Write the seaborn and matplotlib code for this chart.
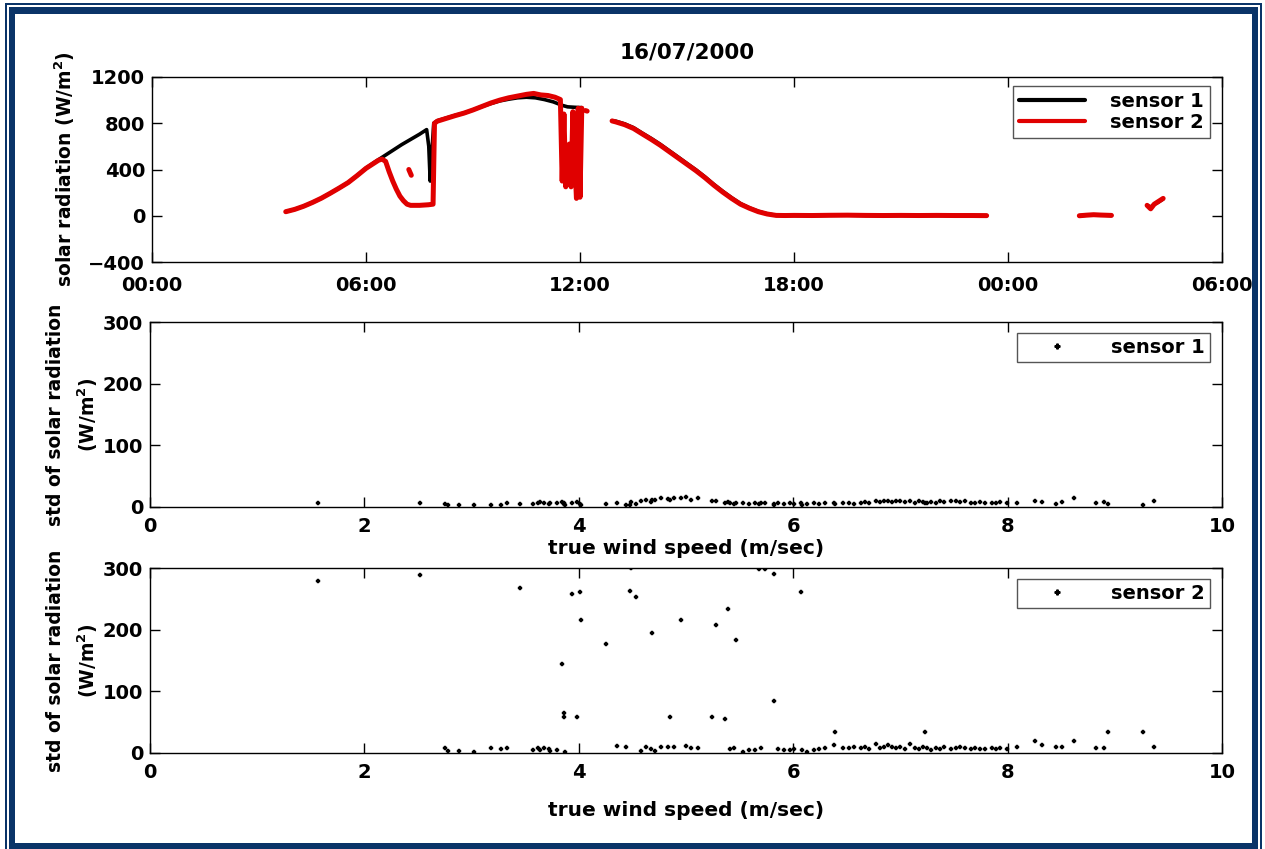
import numpy as np
import pandas as pd
import matplotlib
matplotlib.use("Agg")
import matplotlib.pyplot as plt
from matplotlib.lines import Line2D
from matplotlib.patches import Rectangle
import seaborn as sns

# ---------------- data ----------------
# time in hours from 00:00 on 16/07/2000 (NaN = gap in record)
sensor1_time = [3.75, 4.0, 4.25, 4.5, 4.75, 5.0, 5.25, 5.5, 5.75, 6.0, 6.25, 6.5, 6.75, 7.0,
                7.25, 7.5, 7.7, 7.76, 7.8, 7.84, 7.9, 8.0, 8.25, 8.5, 8.75, 9.0, 9.25, 9.5,
                9.75, 10.0, 10.25, 10.5, 10.75, 11.0, 11.25, 11.5, 11.65, 11.85, 12.05,
                np.nan,
                12.9, 13.0, 13.25, 13.5, 13.75, 14.0, 14.25, 14.5, 14.75, 15.0, 15.25, 15.5,
                15.75, 16.0, 16.25, 16.5, 16.75, 17.0, 17.25, 17.5, 17.75, 18.0, 18.5, 19.0,
                19.5, 20.0, 20.5, 21.0, 21.5, 22.0, 22.5, 23.0, 23.4,
                np.nan,
                26.0, 26.2, 26.4, 26.6, 26.9,
                np.nan,
                27.9, 28.0, 28.1, 28.2, 28.35]
sensor1_value = [35, 55, 82, 115, 152, 195, 240, 287, 347, 412, 465, 515, 565, 615,
                 660, 705, 745, 600, 300, 520, 800, 822, 845, 868, 888, 915, 945, 970,
                 993, 1008, 1020, 1025, 1020, 1005, 985, 955, 942, 938, 935,
                 np.nan,
                 822, 818, 795, 762, 714, 668, 618, 563, 508, 452, 397, 337,
                 272, 212, 156, 105, 68, 38, 16, 4, 2, 3, 2, 4,
                 5, 3, 2, 3, 2, 3, 2, 2, 1,
                 np.nan,
                 0, 5, 8, 6, 3,
                 np.nan,
                 90, 75, 100, 115, 145]

sensor2_time = [3.75, 4.0, 4.25, 4.5, 4.75, 5.0, 5.25, 5.5, 5.75, 6.0, 6.25, 6.35, 6.45, 6.55,
                6.65, 6.75, 6.85, 6.95, 7.05, 7.15, 7.25, 7.5, 7.75, 7.88, 7.92, 8.0, 8.25,
                8.5, 8.75, 9.0, 9.25, 9.5, 9.75, 10.0, 10.25, 10.5, 10.7, 10.9, 11.1, 11.3,
                11.45, 11.5, 11.55, 11.6, 11.7, 11.75, 11.8, 11.9, 11.95, 12.0, 12.05,
                np.nan,
                7.2, 7.27,
                np.nan,
                12.15, 12.2,
                np.nan,
                12.9, 13.0, 13.25, 13.5, 13.75, 14.0, 14.25, 14.5, 14.75, 15.0, 15.25, 15.5,
                15.75, 16.0, 16.25, 16.5, 16.75, 17.0, 17.25, 17.5, 17.75, 18.0, 18.5, 19.0,
                19.5, 20.0, 20.5, 21.0, 21.5, 22.0, 22.5, 23.0, 23.4,
                np.nan,
                26.0, 26.2, 26.4, 26.6, 26.9,
                np.nan,
                27.9, 28.0, 28.1, 28.2, 28.35]
sensor2_value = [35, 55, 82, 115, 152, 195, 240, 287, 347, 410, 460, 480, 490, 470,
                 380, 300, 230, 170, 130, 100, 90, 90, 95, 100, 800, 818, 842,
                 866, 888, 915, 945, 975, 1000, 1020, 1035, 1050, 1058, 1045, 1040, 1025,
                 1005, 300, 880, 250, 620, 250, 900, 150, 930, 160, 930,
                 np.nan,
                 400, 350,
                 np.nan,
                 910, 905,
                 np.nan,
                 820, 812, 788, 755, 707, 660, 610, 555, 500, 445, 390, 330,
                 265, 205, 150, 100, 65, 35, 15, 3, 2, 3, 2, 4,
                 5, 3, 2, 3, 2, 3, 2, 2, 1,
                 np.nan,
                 0, 5, 9, 6, 3,
                 np.nan,
                 90, 60, 100, 120, 150]

time_ticks = [0, 6, 12, 18, 24, 30]
time_tick_labels = ["00:00", "06:00", "12:00", "18:00", "00:00", "06:00"]

wind_speed = [1.57, 2.52, 2.75, 2.78, 2.88, 3.02, 3.18, 3.27, 3.33, 3.45, 3.57, 3.62, 3.64,
              3.68, 3.72, 3.73, 3.80, 3.84, 3.86, 3.86, 3.87, 3.94, 3.98, 4.01, 4.02, 4.25,
              4.36, 4.44, 4.48, 4.49, 4.53, 4.58, 4.63, 4.67, 4.68, 4.71, 4.77, 4.83, 4.85,
              4.89, 4.95, 5.00, 5.05, 5.11, 5.24, 5.28, 5.36, 5.39, 5.41, 5.45, 5.47, 5.53,
              5.59, 5.64, 5.68, 5.70, 5.74, 5.82, 5.82, 5.86, 5.91, 5.97, 6.01, 6.07, 6.08,
              6.13, 6.19, 6.24, 6.30, 6.38, 6.39, 6.46, 6.52, 6.57, 6.63, 6.67, 6.71, 6.77,
              6.81, 6.85, 6.88, 6.92, 6.96, 7.00, 7.04, 7.09, 7.14, 7.17, 7.21, 7.23, 7.25,
              7.29, 7.33, 7.37, 7.41, 7.47, 7.52, 7.56, 7.60, 7.66, 7.70, 7.74, 7.79, 7.85,
              7.89, 7.93, 7.99, 8.09, 8.26, 8.32, 8.45, 8.51, 8.62, 8.82, 8.90, 8.94, 9.26,
              9.37]
std_sensor1 = [6, 6, 5, 3, 3, 3, 3, 4, 7, 5, 5, 6, 8,
               7, 5, 6, 6, 8, 5, 7, 4, 6, 8, 5, 4, 5,
               6, 4, 3, 8, 5, 10, 12, 8, 12, 11, 14, 13, 12,
               14, 15, 16, 12, 15, 10, 9, 6, 8, 7, 5, 6, 7,
               5, 6, 5, 7, 6, 5, 4, 6, 5, 7, 5, 6, 4,
               5, 6, 5, 7, 6, 5, 6, 7, 5, 6, 8, 7, 9,
               8, 10, 9, 8, 10, 9, 8, 10, 7, 9, 8, 7, 6,
               8, 7, 9, 8, 10, 9, 8, 9, 7, 6, 8, 7, 6,
               7, 8, 6, 7, 10, 8, 5, 8, 14, 7, 8, 5, 4,
               9]
std_sensor2 = [279, 288, 8, 4, 4, 2, 8, 6, 8, 268, 5, 8, 5,
               8, 7, 4, 5, 144, 65, 58, 2, 258, 59, 261, 215, 176,
               11, 10, 262, 300, 253, 3, 9, 6, 195, 4, 9, 9, 58,
               9, 216, 11, 8, 8, 58, 208, 55, 234, 6, 8, 184, 2,
               5, 5, 298, 8, 298, 291, 85, 6, 5, 5, 6, 261, 5,
               2, 5, 6, 8, 13, 34, 8, 8, 9, 8, 10, 6, 14,
               8, 10, 13, 10, 8, 10, 6, 14, 8, 6, 10, 34, 8,
               5, 8, 6, 9, 6, 8, 10, 8, 6, 8, 6, 6, 8,
               6, 8, 6, 9, 20, 13, 10, 10, 20, 8, 8, 34, 34,
               9]

# ---------------- helpers ----------------
def to_frame(t, v):
    df = pd.DataFrame({"time": t, "value": v})
    df["segment"] = df["time"].isna().cumsum()
    return df.dropna().reset_index(drop=True)

df1 = to_frame(sensor1_time, sensor1_value)
df2 = to_frame(sensor2_time, sensor2_value)
scatter_df = pd.DataFrame({"wind": wind_speed, "std1": std_sensor1, "std2": std_sensor2})

# ---------------- style ----------------
sns.set_theme(style="ticks")
plt.rcParams["font.family"] = ["DejaVu Sans"]
plt.rcParams["font.weight"] = "bold"
plt.rcParams["axes.labelweight"] = "bold"
plt.rcParams["axes.titleweight"] = "bold"
plt.rcParams["axes.edgecolor"] = "black"
plt.rcParams["axes.linewidth"] = 1.0
for k in ["text.color", "axes.labelcolor", "xtick.color", "ytick.color"]:
    plt.rcParams[k] = "black"

FS_TICK = 14
FS_LAB = 14.5
navy = "#0a3468"

fig = plt.figure(figsize=(12.65, 8.49), dpi=100)
fig.patch.set_facecolor("white")
W, H = 1265.0, 849.0

def px_rect(x0, y0, x1, y1, color, z):
    fig.add_artist(Rectangle((x0 / W, 1 - y1 / H), (x1 - x0) / W, (y1 - y0) / H,
                             transform=fig.transFigure, facecolor=color,
                             edgecolor="none", zorder=z))

# double frame: thin outer line and thick inner line (bottom cropped)
px_rect(5, 3, 1262, 860, navy, -5)
px_rect(7, 5, 1260, 860, "white", -4.9)
px_rect(9, 7, 1258, 849, navy, -4.8)
px_rect(15, 14, 1252, 843, "white", -4.7)

def ax_at(x0, y0, x1, y1):
    return fig.add_axes([x0 / W, 1 - y1 / H, (x1 - x0) / W, (y1 - y0) / H])

ax1 = ax_at(152, 77, 1222, 262)
ax2 = ax_at(150, 322, 1222, 507)
ax3 = ax_at(150, 568, 1222, 753)

def style_axis(ax, xpad=5):
    ax.set_facecolor("white")
    for s in ax.spines.values():
        s.set_visible(True)
        s.set_color("black")
        s.set_linewidth(1.0)
    ax.tick_params(direction="in", top=True, right=True, length=7, width=1,
                   labelsize=FS_TICK, pad=5, colors="black")
    ax.tick_params(axis="x", pad=xpad)
    for lab in ax.get_xticklabels() + ax.get_yticklabels():
        lab.set_fontweight("bold")

# ---------------- top: time series ----------------
sns.lineplot(data=df1, x="time", y="value", units="segment", estimator=None,
             color="black", linewidth=2.6, sort=False, ax=ax1)
sns.lineplot(data=df2, x="time", y="value", units="segment", estimator=None,
             color="#e00000", linewidth=3.6, sort=False, ax=ax1)
ax1.set_xlim(0, 30)
ax1.set_ylim(-400, 1200)
ax1.set_xticks(time_ticks)
ax1.set_xticklabels(time_tick_labels)
ax1.set_yticks([-400, 0, 400, 800, 1200])
ax1.set_xlabel("")
ax1.set_ylabel("solar radiation (W/m$^\\mathbf{2}$)", fontsize=FS_LAB - 1,
               fontweight="bold", labelpad=8)
ax1.set_title("16/07/2000", fontsize=15.5, fontweight="bold", pad=13)
style_axis(ax1, xpad=10)
handles = [Line2D([0], [0], color="black", lw=3),
           Line2D([0], [0], color="#e00000", lw=3)]
leg1 = ax1.legend(handles, ["sensor 1", "sensor 2"], loc="upper right",
                  bbox_to_anchor=(1 - 12 / 1070, 1 - 9 / 185), borderaxespad=0,
                  fancybox=False, framealpha=1, edgecolor="#555555",
                  prop={"size": FS_TICK, "weight": "bold"}, handlelength=3.4,
                  labelspacing=0.1, borderpad=0.3, handletextpad=1.3)
leg1.get_frame().set_linewidth(1.0)

# ---------------- middle / bottom: scatter ----------------
for ax, col, lab in [(ax2, "std1", "sensor 1"), (ax3, "std2", "sensor 2")]:
    sns.scatterplot(data=scatter_df, x="wind", y=col, marker="P", s=12,
                    color="black", edgecolor="black", linewidth=0.3, ax=ax,
                    legend=False)
    ax.set_xlim(0, 10)
    ax.set_ylim(0, 300)
    ax.set_xticks([0, 2, 4, 6, 8, 10])
    ax.set_yticks([0, 100, 200, 300])
    ax.set_ylabel("std of solar radiation\n(W/m$^\\mathbf{2}$)", fontsize=FS_LAB - 1,
                  fontweight="bold", labelpad=2, linespacing=1.55)
    style_axis(ax, xpad=7)
    mh = [Line2D([0], [0], marker="P", color="black", lw=0, markersize=3.5)]
    lg = ax.legend(mh, [lab], loc="upper right",
                   bbox_to_anchor=(1 - 12 / 1072, 1 - 11 / 185), borderaxespad=0,
                   fancybox=False, framealpha=1, edgecolor="#555555",
                   prop={"size": FS_TICK, "weight": "bold"}, handlelength=3.6,
                   borderpad=0.25, handletextpad=1.0)
    lg.get_frame().set_linewidth(1.0)

ax2.set_xlabel("true wind speed (m/sec)", fontsize=FS_LAB, fontweight="bold", labelpad=2)
ax3.set_xlabel("true wind speed (m/sec)", fontsize=FS_LAB, fontweight="bold", labelpad=14)

fig.savefig("out.png", dpi=100, facecolor="white")
